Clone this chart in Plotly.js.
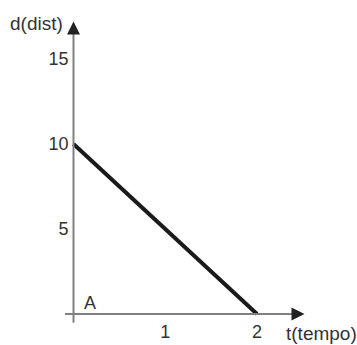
<!DOCTYPE html>
<html>
<head>
<meta charset="utf-8">
<script src="https://cdn.plot.ly/plotly-3.0.1.min.js"></script>
<style>html,body{margin:0;padding:0;background:#fff;}#chart{width:357px;height:345px;}</style>
</head>
<body>
<div id="chart"></div>
<script>
// Data
const timeValues = [0, 2];
const distValues = [10, 0];
const xTickVals = [1, 2];
const xTickText = ['1', '2'];
const yTickVals = [5, 10, 15];
const yTickText = ['5', '10', '15'];
const xTitle = 't(tempo)';
const yTitle = 'd(dist)';
const pointLabel = 'A';

const W = 357, H = 345;
const x0px = 73.5, y0px = 314;   // pixel position of origin
const pxPerX = 91.75, pxPerY = 17;
const xr = [-x0px / pxPerX, (W - x0px) / pxPerX];
const yr = [-(H - y0px) / pxPerY, y0px / pxPerY];
const px2x = p => (p - x0px) / pxPerX;
const py2y = p => (y0px - p) / pxPerY;

const tickFont = {family: 'Liberation Sans, Arial, sans-serif', size: 18, color: '#333333'};
const titleFont = {family: 'Liberation Sans, Arial, sans-serif', size: 19, color: '#333333'};
const axisGrey = '#808080';
const headColor = '#222222';

const trace = {
  x: timeValues, y: distValues, type: 'scatter', mode: 'lines',
  line: {color: '#1a1a1a', width: 4}, hoverinfo: 'none'
};

const layout = {
  width: W, height: H,
  margin: {l: 0, r: 0, t: 0, b: 0, pad: 0},
  paper_bgcolor: '#fff', plot_bgcolor: '#fff',
  showlegend: false,
  font: tickFont,
  xaxis: {
    range: xr, anchor: 'free', position: (H - y0px) / H,
    showgrid: false, zeroline: false, showline: false,
    tickmode: 'array', tickvals: xTickVals, ticktext: xTickText,
    ticks: '', tickfont: tickFont, ticklabelstandoff: 5, fixedrange: true
  },
  yaxis: {
    range: yr, anchor: 'free', position: x0px / W,
    showgrid: false, zeroline: false, showline: false,
    tickmode: 'array', tickvals: yTickVals, ticktext: yTickText,
    ticks: '', tickfont: tickFont, ticklabelstandoff: 5, fixedrange: true
  },
  shapes: [
    {type: 'line', xref: 'x', yref: 'y', x0: px2x(65), y0: 0, x1: px2x(293), y1: 0,
     line: {color: axisGrey, width: 2}},
    {type: 'line', xref: 'x', yref: 'y', x0: 0, y0: py2y(322.7), x1: 0, y1: py2y(34),
     line: {color: axisGrey, width: 2}}
  ],
  annotations: [
    {xref: 'x', yref: 'y', axref: 'x', ayref: 'y', x: px2x(304.5), y: 0, ax: px2x(293), ay: 0,
     showarrow: true, arrowhead: 2, arrowwidth: 2, arrowsize: 1.3, arrowcolor: headColor, text: ''},
    {xref: 'x', yref: 'y', axref: 'x', ayref: 'y', x: 0, y: py2y(21.5), ax: 0, ay: py2y(34),
     showarrow: true, arrowhead: 2, arrowwidth: 2, arrowsize: 1.3, arrowcolor: headColor, text: ''},
    {xref: 'x', yref: 'y', x: px2x(36), y: py2y(23.5), text: yTitle, showarrow: false,
     xanchor: 'center', yanchor: 'middle', font: titleFont},
    {xref: 'x', yref: 'y', x: px2x(284), y: py2y(333), text: xTitle, showarrow: false,
     xanchor: 'left', yanchor: 'middle', font: titleFont},
    {xref: 'x', yref: 'y', x: px2x(89.5), y: py2y(302.5), text: pointLabel, showarrow: false,
     xanchor: 'center', yanchor: 'middle', font: tickFont}
  ]
};

Plotly.newPlot('chart', [trace], layout, {staticPlot: true, displayModeBar: false});
</script>
</body>
</html>
